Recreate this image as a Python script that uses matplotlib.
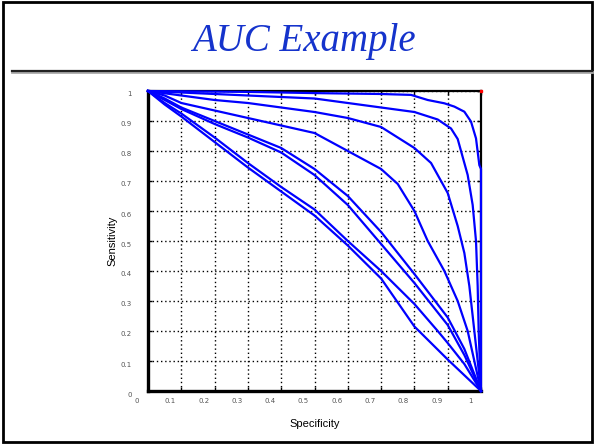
import matplotlib.pyplot as plt
import matplotlib.transforms as mtransforms
from matplotlib.patches import Rectangle
from matplotlib.lines import Line2D


# ROC-style curves: specificity (x) and sensitivity (y)
c1_x = [0, 0.3, 0.5, 0.7, 0.79, 0.84, 0.89, 0.92, 0.95, 0.97, 0.985, 0.995, 1.0, 1.0]
c1_y = [1, 0.997, 0.993, 0.99, 0.987, 0.97, 0.959, 0.948, 0.931, 0.898, 0.842, 0.753, 0.74, 0]

c2_x = [0, 0.1, 0.2, 0.3, 0.4, 0.5, 0.6, 0.7, 0.8, 0.87, 0.91, 0.93, 0.94, 0.96, 0.975, 0.985, 0.99, 0.993, 0.997, 1.0]
c2_y = [1, 0.995, 0.99, 0.985, 0.98, 0.975, 0.96, 0.945, 0.93, 0.905, 0.875, 0.84, 0.8, 0.72, 0.62, 0.5, 0.35, 0.2, 0.08, 0]

c3_x = [0, 0.1, 0.2, 0.3, 0.4, 0.5, 0.6, 0.7, 0.8, 0.85, 0.9, 0.93, 0.95, 0.965, 0.975, 0.985, 0.995, 1.0]
c3_y = [1, 0.985, 0.97, 0.96, 0.945, 0.93, 0.91, 0.88, 0.81, 0.76, 0.66, 0.55, 0.46, 0.35, 0.25, 0.15, 0.05, 0]

c4_x = [0, 0.05, 0.1, 0.2, 0.3, 0.4, 0.5, 0.6, 0.7, 0.75, 0.8, 0.84, 0.89, 0.93, 0.96, 0.98, 1.0]
c4_y = [1, 0.985, 0.96, 0.935, 0.91, 0.885, 0.86, 0.8, 0.74, 0.69, 0.6, 0.5, 0.4, 0.3, 0.2, 0.1, 0]

c5_x = [0, 0.05, 0.1, 0.2, 0.3, 0.4, 0.5, 0.6, 0.7, 0.8, 0.9, 0.95, 1.0]
c5_y = [1, 0.975, 0.945, 0.9, 0.855, 0.81, 0.74, 0.65, 0.53, 0.39, 0.245, 0.14, 0]

c6_x = [0, 0.05, 0.1, 0.2, 0.3, 0.4, 0.5, 0.6, 0.7, 0.8, 0.9, 0.95, 1.0]
c6_y = [1, 0.97, 0.94, 0.89, 0.845, 0.795, 0.72, 0.62, 0.49, 0.36, 0.22, 0.12, 0]

c7_x = [0, 0.05, 0.1, 0.2, 0.3, 0.4, 0.5, 0.6, 0.7, 0.8, 0.87, 0.9, 0.95, 1.0]
c7_y = [1, 0.96, 0.925, 0.845, 0.76, 0.68, 0.605, 0.5, 0.4, 0.29, 0.2, 0.16, 0.09, 0]

c8_x = [0, 0.05, 0.1, 0.2, 0.3, 0.4, 0.5, 0.6, 0.7, 0.8, 0.9, 1.0]
c8_y = [1, 0.955, 0.915, 0.83, 0.745, 0.665, 0.585, 0.485, 0.375, 0.215, 0.105, 0]

curvas = [(c1_x, c1_y), (c2_x, c2_y), (c3_x, c3_y), (c4_x, c4_y),
          (c5_x, c5_y), (c6_x, c6_y), (c7_x, c7_y), (c8_x, c8_y)]

ticks = [0, 0.1, 0.2, 0.3, 0.4, 0.5, 0.6, 0.7, 0.8, 0.9, 1.0]
tick_labels = ['0', '0.1', '0.2', '0.3', '0.4', '0.5', '0.6', '0.7', '0.8', '0.9', '1']

W, H = 594, 444
fig = plt.figure(figsize=(W / 100, H / 100), dpi=100)
fig.patch.set_facecolor('white')

# moldura do slide e linha do titulo
fig.patches.append(Rectangle((2.5 / W, 2.5 / H), (592 - 2.5) / W, (441.5 - 2.5) / H,
                             transform=fig.transFigure, fill=False, edgecolor='black', linewidth=2))
fig.lines.append(Line2D([12 / W, 592 / W], [1 - 72 / H, 1 - 72 / H], transform=fig.transFigure,
                        color='#aaaaaa', linewidth=2))
fig.lines.append(Line2D([12 / W, 592 / W], [1 - 71 / H, 1 - 71 / H], transform=fig.transFigure,
                        color='#222222', linewidth=1.6))
fig.text(0.512, 1 - 42 / H, 'AUC Example', ha='center', va='center', fontsize=28,
         family='Liberation Serif', style='italic', color='#1533cc')

ax = fig.add_axes([148 / W, 1 - 391 / H, (481 - 148) / W, (391 - 91) / H])
for cx, cy in curvas:
    ax.plot(cx, cy, color='#0000ff', linewidth=1.6, solid_joinstyle='round',
            zorder=3, clip_on=False)
ax.plot([1], [1], 's', color='red', markersize=2, clip_on=False, zorder=5)

ax.set_xlim(0, 1)
ax.set_ylim(0, 1)
ax.set_xticks(ticks)
ax.set_xticklabels(tick_labels)
ax.set_yticks(ticks)
ax.set_yticklabels(tick_labels)
ax.tick_params(direction='in', length=3, width=1, labelsize=5, labelcolor='#555555',
               top=True, right=True)
ax.tick_params(axis='x', pad=5)
ax.tick_params(axis='y', pad=8)
ax.grid(True, color='black', linestyle=(0, (1, 2)), linewidth=1.0)

for lado, lw in [('left', 2.4), ('bottom', 2.4), ('top', 1.6), ('right', 1.6)]:
    ax.spines[lado].set_linewidth(lw)
    ax.spines[lado].set_color('black')

# os rotulos do original ficam deslocados em relacao as linhas da grade
desloc_x = mtransforms.ScaledTranslation(-0.11, 0, fig.dpi_scale_trans)
for label in ax.get_xticklabels():
    label.set_transform(label.get_transform() + desloc_x)
desloc_y = mtransforms.ScaledTranslation(-0.05, -0.03, fig.dpi_scale_trans)
for label in ax.get_yticklabels():
    label.set_transform(label.get_transform() + desloc_y)

ax.set_xlabel('Specificity', fontsize=8, family='Liberation Sans')
ax.set_ylabel('Sensitivity', fontsize=8, family='Liberation Sans')
ax.xaxis.set_label_coords(0.5, (391 - 419) / 300)
ax.yaxis.set_label_coords((117 - 148) / 333, 0.5)

fig.savefig('out.png', dpi=100)
